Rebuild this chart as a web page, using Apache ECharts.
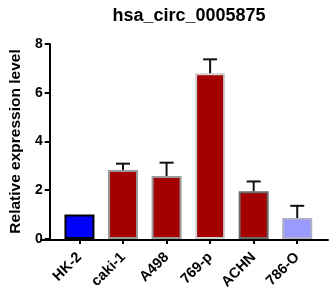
<!DOCTYPE html>
<html><head><meta charset="utf-8">
<script src="https://cdn.jsdelivr.net/npm/echarts@6/dist/echarts.min.js"></script>
<style>html,body{margin:0;padding:0;background:#fff}#c{width:332px;height:292px}</style>
</head><body><div id="c"></div>
<script>
const categories = ['HK-2', 'caki-1', 'A498', '769-p', 'ACHN', '786-O'];
const means = [1.0, 2.83, 2.58, 6.8, 1.96, 0.86];
const errors = [0, 0.26, 0.55, 0.57, 0.4, 0.5];
const yTicks = [0, 2, 4, 6, 8];
const titleText = 'hsa_circ_0005875';
const yName = 'Relative expression level';

const fills = ['#0000ff', '#a50000', '#a50000', '#a50000', '#a50000', '#9999ff'];
const borders = ['#000000', '#9a9a9a', '#9a9a9a', '#d0d0d0', '#6a6a6a', '#b0b0c8'];

const chart = echarts.init(document.getElementById('c'));
const font = 'Arial, "Liberation Sans", sans-serif';
chart.setOption({
  animation: false,
  title: { text: titleText, left: 184, top: 2, textAlign: 'center',
    textStyle: { fontFamily: font, fontWeight: 'bold', fontSize: 18, color: '#000' } },
  grid: [
    { left: 49, right: 13, top: 44, bottom: 52 },
    { left: 41, right: 4, top: 44, bottom: 52 }
  ],
  xAxis: [
    { type: 'category', gridIndex: 0, data: categories,
      axisLine: { show: false },
      axisTick: { show: true, alignWithLabel: true, length: 5, lineStyle: { color: '#000', width: 2 } },
      axisLabel: { rotate: 45, margin: 16, color: '#000', fontFamily: font, fontWeight: 'bold', fontSize: 14.5, interval: 0 } },
    { type: 'value', gridIndex: 1, min: 0, max: 1,
      axisLine: { show: true, onZero: false, lineStyle: { color: '#000', width: 2 } },
      axisTick: { show: false }, axisLabel: { show: false }, splitLine: { show: false } }
  ],
  yAxis: [
    { type: 'value', gridIndex: 0, min: yTicks[0], max: yTicks[yTicks.length - 1], interval: 2, offset: 8,
      name: yName, nameLocation: 'middle', nameGap: 20,
      nameTextStyle: { fontFamily: font, fontWeight: 'bold', fontSize: 15.5, color: '#000' },
      axisLine: { show: true, lineStyle: { color: '#000', width: 2 } },
      axisTick: { show: true, length: 5, lineStyle: { color: '#000', width: 2 } },
      axisLabel: { color: '#000', fontFamily: font, fontWeight: 'bold', fontSize: 14, margin: 7 },
      splitLine: { show: false } },
    { type: 'value', gridIndex: 1, show: false, min: 0, max: 1 }
  ],
  series: [
    { type: 'bar', xAxisIndex: 0, yAxisIndex: 0, barWidth: 30,
      data: means.map((v, i) => ({ value: v, itemStyle: { color: fills[i], borderColor: borders[i], borderWidth: 2 } })) },
    { type: 'custom', xAxisIndex: 0, yAxisIndex: 0, z: 3,
      data: means.map((v, i) => [i, v, v + errors[i]]),
      renderItem: function (params, api) {
        const lo = api.coord([api.value(0), api.value(1)]);
        const hi = api.coord([api.value(0), api.value(2)]);
        if (hi[1] >= lo[1] - 0.5) return null;
        const hw = 7;
        const st = { stroke: '#111', lineWidth: 2 };
        return { type: 'group', children: [
          { type: 'line', shape: { x1: lo[0], y1: lo[1], x2: hi[0], y2: hi[1] }, style: st },
          { type: 'line', shape: { x1: hi[0] - hw, y1: hi[1], x2: hi[0] + hw, y2: hi[1] }, style: st }
        ] };
      } }
  ]
});
</script></body></html>
